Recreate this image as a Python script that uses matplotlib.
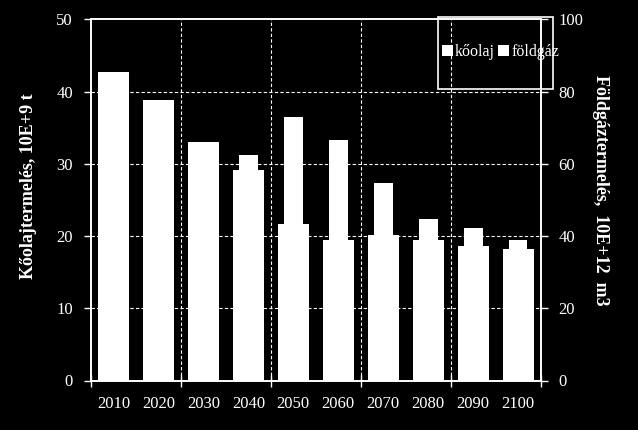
import matplotlib
matplotlib.use("Agg")
import matplotlib.pyplot as plt
import numpy as np
from matplotlib.patches import Rectangle

plt.rcParams['font.family'] = ['Liberation Serif', 'DejaVu Serif']

years = ['2010', '2020', '2030', '2040', '2050', '2060', '2070', '2080', '2090', '2100']
koolaj = [42.7, 38.85, 33.0, 29.15, 21.7, 19.5, 20.15, 19.5, 18.6, 18.2]      # 10E+9 t, left axis
foldgaz = [55.0, 60.0, 62.0, 62.4, 72.9, 66.6, 54.7, 44.7, 42.2, 38.9]        # 10E+12 m3, right axis

W, H = 638, 430
fig = plt.figure(figsize=(W / 100, H / 100), dpi=100, facecolor='black')
L, R, T, B = 91, 540.5, 19.3, 380.5
ax = fig.add_axes([L / W, 1 - B / H, (R - L) / W, (B - T) / H])
ax.set_facecolor('black')
ax2 = ax.twinx()

x = np.arange(len(years))
b1 = ax.bar(x, koolaj, width=0.69, color='white', zorder=3, label='kőolaj')
b2 = ax2.bar(x, foldgaz, width=0.42, color='white', zorder=3, label='földgáz')

ax.set_xlim(-0.5, len(years) - 0.5)
ax.set_ylim(0, 50)
ax2.set_ylim(0, 100)
ax.set_yticks(np.arange(0, 51, 10))
ax2.set_yticks(np.arange(0, 101, 20))

# grid
dash = (0, (3, 2))
for yv in [10, 20, 30, 40]:
    ax.axhline(yv, color='white', lw=0.8, ls=dash, zorder=1)
for xv in [1.5, 3.5, 5.5, 7.5]:
    ax.axvline(xv, color='white', lw=0.8, ls=dash, zorder=1)

for a in (ax, ax2):
    for s in a.spines.values():
        s.set_color('white')
        s.set_linewidth(1.2)

ax.set_xticks(np.arange(-0.5, len(years), 2))
ax.set_xticklabels([])
ax.set_xticks(x, minor=True)
ax.set_xticklabels(years, minor=True)
ax.tick_params(axis='x', which='major', direction='inout', length=8, color='white', width=1)
ax.tick_params(axis='x', which='minor', length=0, pad=11, labelsize=12, labelcolor='white')
ax.tick_params(axis='y', direction='out', length=5, color='white', width=1,
               labelsize=12, labelcolor='white', pad=8)
ax2.tick_params(axis='y', direction='out', length=5, color='white', width=1,
                labelsize=12, labelcolor='white', pad=8)

fig.text(29 / W, 1 - 186 / H, 'Kőolajtermelés, 10E+9 t', rotation=90, ha='center', va='center',
         color='white', fontsize=13, fontweight='bold')
fig.text(600 / W, 1 - 190 / H, 'Földgáztermelés,  10E+12  m3', rotation=270, ha='center', va='center',
         color='white', fontsize=13, fontweight='bold')

# legend
fig.patches.append(Rectangle((438 / W, 1 - 89 / H), (553 - 438) / W, (89 - 17) / H,
                             transform=fig.transFigure, fill=False, edgecolor='white', lw=1.2))
leg = fig.legend(handles=[b1, b2], labels=['kőolaj', 'földgáz'], loc='center left',
                 bbox_to_anchor=(442 / W, 1 - 52 / H), bbox_transform=fig.transFigure,
                 ncol=2, frameon=False, fontsize=11.5, handlelength=0.7, handleheight=0.7,
                 handletextpad=0.12, columnspacing=0.2, borderpad=0, borderaxespad=0)
for t in leg.get_texts():
    t.set_color('white')

fig.savefig('out.png', dpi=100, facecolor='black')
